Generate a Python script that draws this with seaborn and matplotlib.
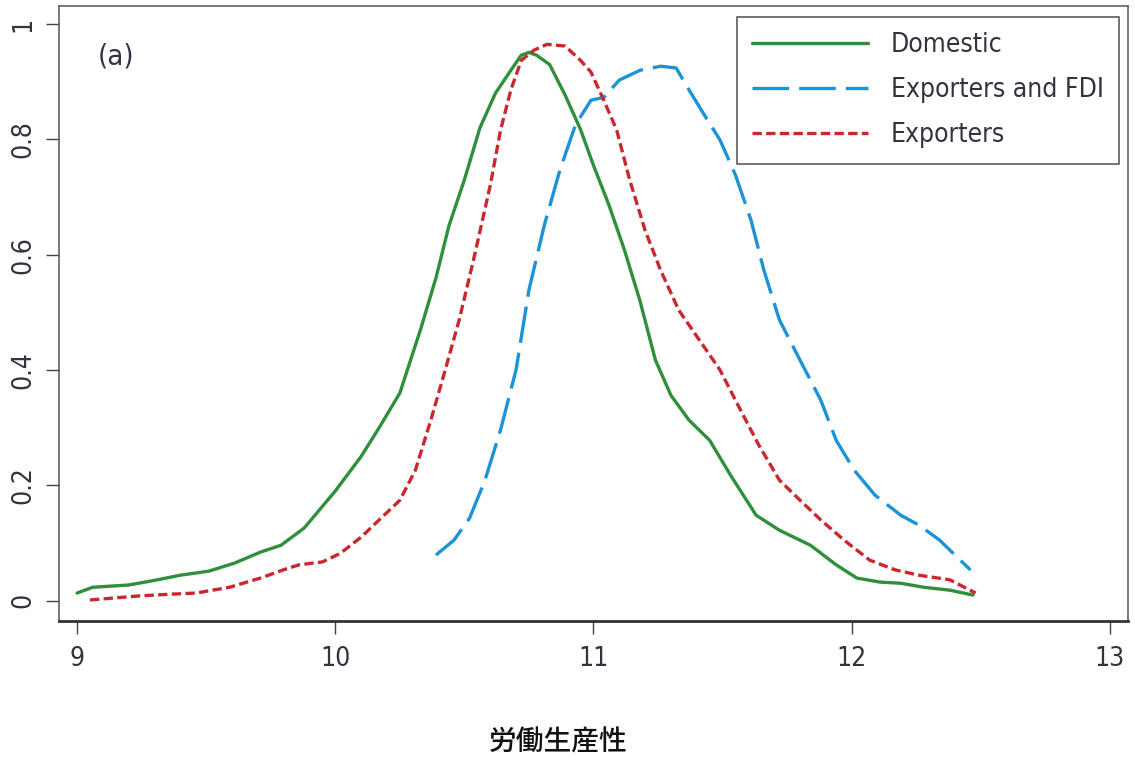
import numpy as np
import pandas as pd
import matplotlib
matplotlib.use('Agg')
import matplotlib.pyplot as plt
import seaborn as sns

# Domestic
dom_x = [9.00, 9.06, 9.13, 9.20, 9.30, 9.40, 9.51, 9.61, 9.71, 9.79, 9.88, 10.00, 10.10,
         10.17, 10.25, 10.33, 10.39, 10.44, 10.50, 10.56, 10.62, 10.68, 10.72, 10.75, 10.78,
         10.83, 10.89, 10.95, 11.00, 11.06, 11.12, 11.18, 11.24, 11.30, 11.37, 11.45, 11.53,
         11.63, 11.72, 11.84, 11.94, 12.02, 12.11, 12.19, 12.28, 12.38, 12.47]
dom_y = [0.013, 0.023, 0.025, 0.027, 0.035, 0.044, 0.051, 0.065, 0.084, 0.096, 0.126, 0.19,
         0.25, 0.30, 0.36, 0.47, 0.56, 0.65, 0.73, 0.82, 0.88, 0.92, 0.946, 0.951, 0.946, 0.93,
         0.877, 0.817, 0.755, 0.686, 0.608, 0.52, 0.417, 0.356, 0.313, 0.278, 0.218, 0.148,
         0.122, 0.096, 0.062, 0.039, 0.032, 0.030, 0.023, 0.018, 0.0095]

# Exporters and FDI
fdi_x = [10.39, 10.46, 10.52, 10.58, 10.64, 10.70, 10.75, 10.81, 10.87, 10.93, 10.99, 11.04,
         11.10, 11.18, 11.26, 11.32, 11.37, 11.43, 11.49, 11.55, 11.61, 11.66, 11.72, 11.80,
         11.88, 11.94, 12.01, 12.09, 12.19, 12.26, 12.34, 12.46]
fdi_y = [0.079, 0.105, 0.143, 0.209, 0.296, 0.40, 0.539, 0.652, 0.747, 0.825, 0.868, 0.873,
         0.903, 0.92, 0.927, 0.924, 0.886, 0.842, 0.799, 0.738, 0.66, 0.573, 0.487, 0.417,
         0.348, 0.278, 0.226, 0.183, 0.148, 0.131, 0.105, 0.053]

# Exporters
exp_x = [9.05, 9.13, 9.24, 9.36, 9.46, 9.59, 9.71, 9.81, 9.86, 9.95, 10.02, 10.10, 10.17,
         10.25, 10.31, 10.37, 10.42, 10.48, 10.54, 10.60, 10.64, 10.68, 10.72, 10.77, 10.82,
         10.89, 10.95, 10.99, 11.04, 11.09, 11.14, 11.20, 11.26, 11.33, 11.41, 11.49, 11.57,
         11.64, 11.72, 11.80, 11.88, 11.97, 12.07, 12.17, 12.26, 12.38, 12.48]
exp_y = [0.001, 0.004, 0.008, 0.011, 0.013, 0.023, 0.039, 0.055, 0.062, 0.067, 0.082, 0.11,
         0.14, 0.174, 0.226, 0.313, 0.391, 0.487, 0.60, 0.72, 0.816, 0.886, 0.937, 0.955, 0.965,
         0.962, 0.937, 0.917, 0.868, 0.816, 0.73, 0.642, 0.573, 0.504, 0.452, 0.40, 0.33, 0.27,
         0.209, 0.174, 0.14, 0.105, 0.07, 0.053, 0.044, 0.036, 0.013]

xticks = [9, 10, 11, 12, 13]
yticks = [0, 0.2, 0.4, 0.6, 0.8, 1]
yticklabels = ['0', '0.2', '0.4', '0.6', '0.8', '1']

sns.set_style('white')
plt.rcParams['font.family'] = ['DejaVu Sans']
plt.rcParams['font.stretch'] = 'condensed'

fig = plt.figure(figsize=(11.35, 7.62), dpi=100)
ax = fig.add_axes([0.052, 0.1854, 0.9418, 0.8071])

sns.lineplot(x=dom_x, y=dom_y, ax=ax, color='#2f8f3c', lw=2.4, label='Domestic', sort=False)
sns.lineplot(x=fdi_x, y=fdi_y, ax=ax, color='#1a93d9', lw=2.4, label='Exporters and FDI', sort=False)
sns.lineplot(x=exp_x, y=exp_y, ax=ax, color='#c8282e', lw=2.4, label='Exporters', sort=False)
ax.lines[1].set_dashes((11, 3))
ax.lines[2].set_dashes((2.8, 1.3))

ax.set_xlim(8.93, 13.07)
ax.set_ylim(-0.035, 1.032)
ax.set_xticks(xticks)
ax.set_xticklabels([str(t) for t in xticks])
ax.set_yticks(yticks)
ax.set_yticklabels(yticklabels, rotation=90, va='center')
ax.tick_params(axis='both', direction='out', length=9.5, width=1, color='#444444',
               labelsize=19, labelcolor='#333340', bottom=True, left=True)
ax.tick_params(axis='x', pad=9)
ax.tick_params(axis='y', pad=7)
for side in ['top', 'right', 'left']:
    ax.spines[side].set_color('#555555')
    ax.spines[side].set_linewidth(1.1)
ax.spines['bottom'].set_color('#333333')
ax.spines['bottom'].set_linewidth(2)

ax.set_xlabel('')
ax.set_ylabel('')
fig.text(0.492, 0.026, '労働生産性', ha='center', va='center', fontsize=20,
         family=['Noto Sans CJK JP', 'DejaVu Sans'], fontweight='medium', color='#111111')

ax.text(0.036, 0.918, '(a)', transform=ax.transAxes, fontsize=21, color='#333340',
        ha='left', va='center')

leg = ax.legend(loc='upper right', bbox_to_anchor=(0.9916, 0.9816), borderaxespad=0,
                fancybox=False, frameon=True, fontsize=19, handlelength=4.4,
                handletextpad=0.85, labelspacing=0.72, borderpad=0.58)
leg.get_frame().set_edgecolor('#222222')
leg.get_frame().set_linewidth(1.1)
for t in leg.get_texts():
    t.set_color('#333340')

fig.savefig('out.png', dpi=100)
